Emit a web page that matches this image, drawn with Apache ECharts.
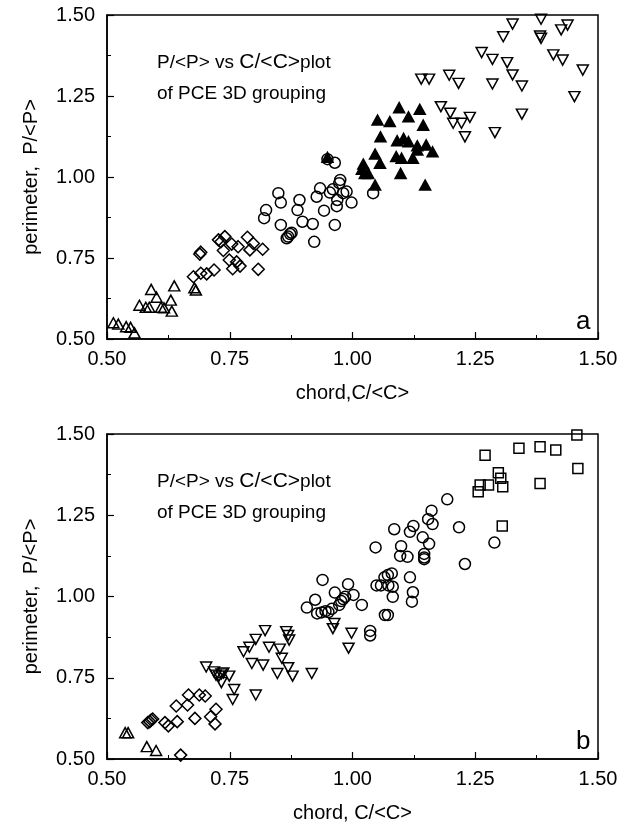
<!DOCTYPE html>
<html>
<head>
<meta charset="utf-8">
<script src="https://cdn.jsdelivr.net/npm/echarts@6/dist/echarts.min.js"></script>
<style>html,body{margin:0;padding:0;background:#fff}#c{width:631px;height:830px}</style>
</head>
<body>
<div id="c"></div>
<script>
// ---------- data ----------
var axisTicks = [0.50, 0.75, 1.00, 1.25, 1.50];
var titleLine1 = ['P/<P> vs ', 'C/<C>', 'plot'];
var titleLine2 = 'of PCE 3D grouping';
var xName = ['chord,C/<C>', 'chord, C/<C>'];
var yName = 'perimeter,  P/<P>';
var panelLetters = ['a', 'b'];

// panel a
var upTriA = [[0.513,0.550],[0.523,0.546],[0.539,0.538],[0.548,0.536],[0.556,0.519],[0.566,0.604],[0.579,0.598],[0.586,0.598],[0.590,0.653],[0.601,0.629],[0.610,0.598],[0.616,0.596],[0.630,0.620],[0.632,0.586],[0.637,0.664],[0.678,0.658],[0.681,0.651]];
var diamondA = [[0.676,0.692],[0.691,0.703],[0.703,0.701],[0.718,0.713],[0.689,0.762],[0.691,0.768],[0.727,0.806],[0.732,0.800],[0.740,0.816],[0.737,0.773],[0.754,0.793],[0.767,0.785],[0.749,0.744],[0.756,0.717],[0.764,0.738],[0.771,0.725],[0.786,0.814],[0.798,0.795],[0.791,0.775],[0.817,0.777],[0.808,0.715]];
var circleA = [[0.820,0.873],[0.824,0.898],[0.849,0.950],[0.854,0.921],[0.854,0.852],[0.866,0.811],[0.869,0.816],[0.873,0.824],[0.876,0.828],[0.888,0.898],[0.892,0.929],[0.898,0.862],[0.919,0.855],[0.922,0.800],[0.927,0.939],[0.934,0.965],[0.942,0.896],[0.949,1.055],[0.954,0.952],[0.960,0.962],[0.964,1.044],[0.964,0.852],[0.968,0.910],[0.969,0.929],[0.973,0.981],[0.975,0.991],[0.981,0.950],[0.988,0.955],[0.998,0.921],[1.042,0.950]];
var filledTriA = [[0.949,1.061],[1.095,1.214],[1.137,1.209],[1.114,1.186],[1.051,1.176],[1.076,1.171],[1.144,1.160],[1.057,1.124],[1.091,1.112],[1.104,1.119],[1.114,1.109],[1.132,1.096],[1.150,1.099],[1.163,1.078],[1.132,1.083],[1.046,1.071],[1.089,1.063],[1.100,1.058],[1.123,1.058],[1.056,1.042],[1.022,1.040],[1.019,1.024],[1.032,1.011],[1.025,1.011],[1.098,1.011],[1.046,0.975],[1.148,0.975]];
var downTriA = [[1.326,1.472],[1.384,1.487],[1.307,1.433],[1.382,1.435],[1.384,1.428],[1.425,1.454],[1.438,1.469],[1.263,1.384],[1.285,1.363],[1.315,1.353],[1.409,1.377],[1.428,1.361],[1.469,1.330],[1.326,1.315],[1.345,1.281],[1.285,1.287],[1.140,1.302],[1.156,1.302],[1.197,1.314],[1.216,1.289],[1.452,1.248],[1.180,1.217],[1.199,1.197],[1.205,1.166],[1.222,1.166],[1.239,1.184],[1.229,1.124],[1.345,1.194],[1.290,1.137]];

// panel b
var upTriB = [[0.537,0.581],[0.543,0.581],[0.581,0.538],[0.600,0.526]];
var diamondB = [[0.583,0.612],[0.587,0.615],[0.590,0.620],[0.593,0.623],[0.618,0.612],[0.625,0.602],[0.643,0.615],[0.641,0.663],[0.664,0.666],[0.666,0.697],[0.679,0.625],[0.688,0.697],[0.700,0.694],[0.711,0.630],[0.722,0.653],[0.720,0.608],[0.650,0.512]];
var downTriB = [[0.702,0.783],[0.718,0.768],[0.722,0.758],[0.728,0.755],[0.733,0.762],[0.737,0.765],[0.733,0.735],[0.749,0.755],[0.759,0.714],[0.756,0.683],[0.803,0.697],[0.778,0.830],[0.790,0.844],[0.803,0.868],[0.822,0.895],[0.830,0.844],[0.852,0.838],[0.856,0.810],[0.865,0.892],[0.869,0.880],[0.871,0.866],[0.795,0.794],[0.818,0.789],[0.847,0.763],[0.869,0.781],[0.878,0.755],[0.917,0.763],[0.963,0.917],[0.960,0.901],[0.998,0.887],[0.992,0.841]];
var circleB = [[0.907,0.966],[0.924,0.990],[0.928,0.948],[0.937,0.951],[0.945,0.955],[0.951,0.952],[0.958,0.962],[0.939,1.051],[0.964,1.012],[0.973,0.974],[0.977,0.986],[0.981,0.992],[0.985,0.999],[0.991,1.038],[1.002,1.005],[1.019,0.974],[1.036,0.894],[1.036,0.880],[1.047,1.151],[1.049,1.034],[1.058,1.034],[1.065,1.059],[1.066,0.943],[1.072,0.943],[1.072,1.066],[1.073,1.034],[1.080,1.071],[1.082,1.030],[1.082,0.999],[1.085,1.207],[1.097,1.125],[1.099,1.155],[1.112,1.122],[1.117,1.199],[1.117,1.059],[1.121,0.984],[1.123,1.013],[1.124,1.217],[1.143,1.182],[1.146,1.131],[1.146,1.120],[1.146,1.115],[1.154,1.238],[1.156,1.162],[1.161,1.264],[1.163,1.223],[1.193,1.299],[1.217,1.213],[1.229,1.100],[1.289,1.166]];
var squareB = [[1.457,1.497],[1.339,1.456],[1.382,1.461],[1.414,1.451],[1.270,1.435],[1.459,1.394],[1.297,1.381],[1.302,1.364],[1.260,1.343],[1.277,1.343],[1.306,1.338],[1.256,1.322],[1.382,1.348],[1.305,1.217]];

// ---------- chart ----------
var FONT = '"Liberation Sans", Arial, Helvetica, sans-serif';
var DOWN = 'path://M0,0 L10,0 L5,9 Z';
var UP = 'path://M5,0 L10,9 L0,9 Z';

function xAx(i) {
  return {
    type: 'value', gridIndex: i, min: axisTicks[0], max: axisTicks[axisTicks.length-1], interval: 0.25,
    name: xName[i], nameLocation: 'middle', nameGap: 44,
    nameTextStyle: {color: '#000', fontSize: 20, fontFamily: FONT},
    axisLine: {show: true, onZero: false, lineStyle: {color: '#000', width: 1.5}},
    axisTick: {show: true, inside: true, length: 7, lineStyle: {color: '#000', width: 1.2}},
    minorTick: {show: true, splitNumber: 2, length: 4, lineStyle: {color: '#000', width: 1}},
    splitLine: {show: false},
    axisLabel: {color: '#000', fontSize: 20, fontFamily: FONT, margin: 10, formatter: function(v){return v.toFixed(2);}}
  };
}
function yAx(i) {
  return {
    type: 'value', gridIndex: i, min: axisTicks[0], max: axisTicks[axisTicks.length-1], interval: 0.25,
    name: yName, nameLocation: 'middle', nameGap: 66, nameRotate: 90,
    nameTextStyle: {color: '#000', fontSize: 20, fontFamily: FONT},
    axisLine: {show: true, onZero: false, lineStyle: {color: '#000', width: 1.5}},
    axisTick: {show: true, inside: true, length: 7, lineStyle: {color: '#000', width: 1.2}},
    minorTick: {show: true, splitNumber: 2, length: 4, lineStyle: {color: '#000', width: 1}},
    splitLine: {show: false},
    axisLabel: {color: '#000', fontSize: 20, fontFamily: FONT, margin: 12, formatter: function(v){return v.toFixed(2);}}
  };
}
function sc(i, data, symbol, size, filled) {
  return {
    type: 'scatter', xAxisIndex: i, yAxisIndex: i, data: data, symbol: symbol, symbolSize: size,
    clip: false, silent: true,
    itemStyle: {color: filled ? '#000' : 'rgba(255,255,255,0)', borderColor: '#000', borderWidth: 1.5, opacity: 1}
  };
}
var rich = {
  a: {fontSize: 19, fontWeight: 'normal', fontFamily: FONT, color: '#000', lineHeight: 31},
  b: {fontSize: 21, fontWeight: 'normal', fontFamily: FONT, color: '#000', lineHeight: 31}
};
var titleText = '{a|' + titleLine1[0] + '}{b|' + titleLine1[1] + '}{a|' + titleLine1[2] + '}\n{a|' + titleLine2 + '}';

var chart = echarts.init(document.getElementById('c'), null, {renderer: 'canvas'});
chart.setOption({
  backgroundColor: '#fff',
  animation: false,
  title: [
    {text: titleText, left: 152, top: 42, textStyle: {fontWeight: 'normal', rich: rich}},
    {text: titleText, left: 152, top: 461, textStyle: {fontWeight: 'normal', rich: rich}},
    {text: panelLetters[0], left: 571, top: 304, textStyle: {fontSize: 26, fontWeight: 'normal', fontFamily: FONT, color: '#000'}},
    {text: panelLetters[1], left: 571, top: 724, textStyle: {fontSize: 26, fontWeight: 'normal', fontFamily: FONT, color: '#000'}}
  ],
  grid: [
    {left: 107, top: 15, width: 491, height: 324, show: true, borderColor: '#000', borderWidth: 1.5, backgroundColor: 'transparent'},
    {left: 107, top: 434, width: 491, height: 325, show: true, borderColor: '#000', borderWidth: 1.5, backgroundColor: 'transparent'}
  ],
  xAxis: [xAx(0), xAx(1)],
  yAxis: [yAx(0), yAx(1)],
  series: [
    sc(0, upTriA, UP, [11, 10], false),
    sc(0, diamondA, 'diamond', [12, 12], false),
    sc(0, circleA, 'circle', 11, false),
    sc(0, filledTriA, UP, [11, 10], true),
    sc(0, downTriA, DOWN, [11, 10], false),
    sc(1, upTriB, UP, [11, 10], false),
    sc(1, diamondB, 'diamond', [12, 12], false),
    sc(1, downTriB, DOWN, [11, 10], false),
    sc(1, circleB, 'circle', 11, false),
    sc(1, squareB, 'rect', [10, 10], false)
  ]
});
</script>
</body>
</html>
